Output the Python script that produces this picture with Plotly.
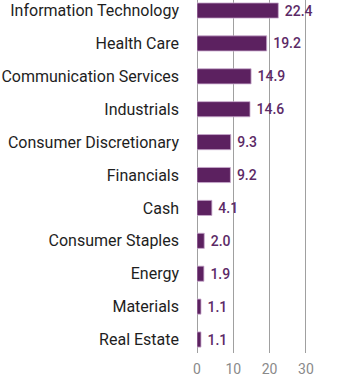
import plotly.graph_objects as go

categories = ["Information Technology", "Health Care", "Communication Services", "Industrials",
              "Consumer Discretionary", "Financials", "Cash", "Consumer Staples", "Energy",
              "Materials", "Real Estate"]
values = [22.4, 19.2, 14.9, 14.6, 9.3, 9.2, 4.1, 2.0, 1.9, 1.1, 1.1]
x_ticks = [0, 10, 20, 30]

purple = "#5c2160"

fig = go.Figure(go.Bar(
    y=categories, x=values, orientation="h",
    marker=dict(color=purple, line=dict(color="rgba(200,170,205,0.8)", width=1)),
    width=0.46,
    text=[f" {v:.1f}" for v in values], textposition="outside",
    constraintext="none",
    textfont=dict(color="#5c2a66", size=14, family="Roboto", weight=500),
    cliponaxis=False,
))

fig.update_layout(
    width=340, height=379,
    margin=dict(l=197, r=33, t=0, b=26),
    paper_bgcolor="white", plot_bgcolor="white",
    showlegend=False,
    bargap=0.54,
    xaxis=dict(range=[0, 30.3], tickvals=x_ticks, showgrid=True, gridcolor="#a0a0a0", gridwidth=1,
               zeroline=True, zerolinecolor="#a0a0a0", zerolinewidth=1,
               tickfont=dict(color="#8a8a8a", size=14, family="Roboto"), ticks="",
               ticklabelstandoff=6, fixedrange=True),
    yaxis=dict(categoryorder="array", categoryarray=categories, range=[10.41, -0.32],
               tickfont=dict(color="#1e1e1e", size=16, family="Roboto"), ticks="",
               ticklabelstandoff=17, showgrid=False),
)

fig.write_html("out.html")
